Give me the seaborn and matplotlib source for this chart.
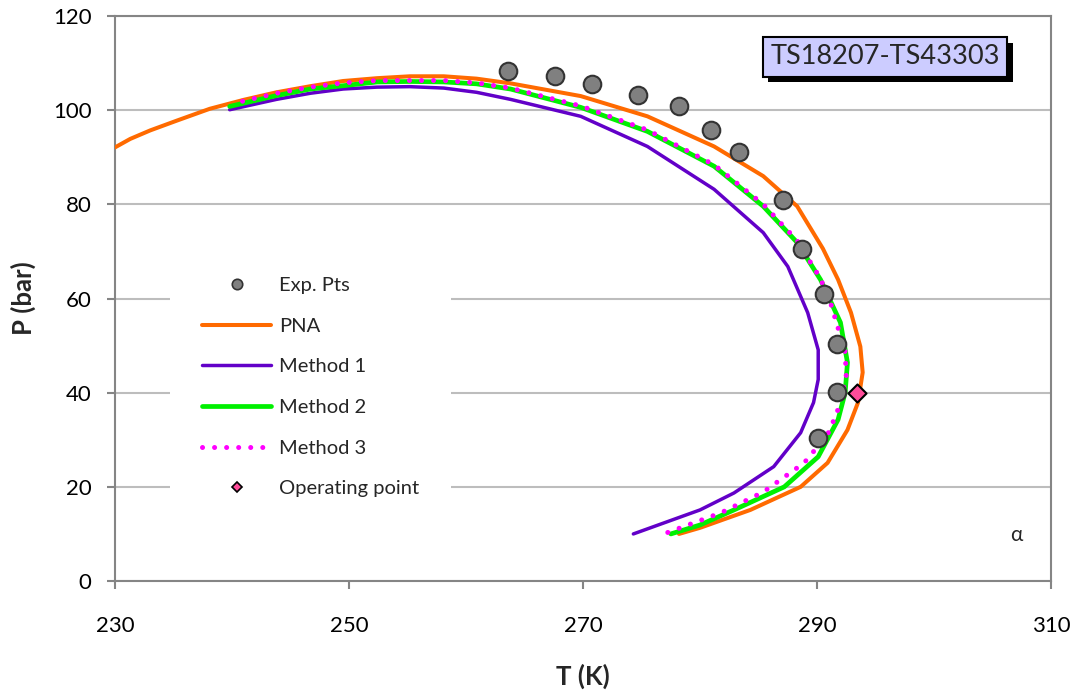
import matplotlib
matplotlib.use("Agg")
import matplotlib.pyplot as plt
import matplotlib.patheffects as pe
from matplotlib.lines import Line2D
import seaborn as sns

# ---------------- data ----------------
exp_T = [263.6, 267.6, 270.8, 274.7, 278.2, 280.9, 283.3, 287.1, 288.7, 290.6, 291.7, 291.7, 290.1]
exp_P = [108.3, 107.2, 105.5, 103.2, 100.9, 95.7, 91.1, 80.9, 70.6, 60.9, 50.4, 40.2, 30.4]

pna_T = [230.0, 231.3, 233.0, 235.3, 238.1, 241.0, 243.8, 246.7, 249.5, 252.4, 255.2, 258.1,
         260.9, 263.8, 269.8, 275.5, 281.2, 285.4, 288.3, 290.5, 291.8, 292.9, 293.7, 293.9,
         293.5, 292.6, 290.9, 288.6, 284.3, 280.0, 278.2]
pna_P = [92.1, 93.9, 95.7, 97.8, 100.3, 102.2, 103.8, 105.1, 106.2, 106.8, 107.2, 107.2,
         106.7, 105.7, 103.0, 98.7, 92.3, 86.0, 79.6, 70.6, 64.0, 57.0, 49.8, 44.3,
         37.9, 32.1, 25.1, 20.0, 15.1, 11.3, 10.0]

m1_T = [239.8, 243.8, 246.7, 249.5, 252.4, 255.2, 258.1, 260.9, 263.8, 269.8, 275.5, 281.2,
        285.4, 287.5, 289.2, 290.1, 290.1, 289.7, 288.6, 286.3, 282.9, 280.0, 274.3]
m1_P = [100.1, 102.3, 103.6, 104.5, 104.9, 105.0, 104.7, 103.8, 102.3, 98.7, 92.3, 83.2,
        74.0, 66.8, 57.0, 49.1, 42.8, 37.9, 31.5, 24.3, 18.7, 15.1, 10.0]

m2_T = [239.8, 243.8, 246.7, 249.5, 252.4, 255.2, 258.1, 260.9, 263.8, 269.8, 275.5, 281.2,
        285.4, 288.3, 290.3, 292.0, 292.6, 292.4, 291.8, 290.1, 287.2, 282.9, 280.0, 277.5]
m2_P = [100.8, 103.1, 104.5, 105.2, 106.0, 106.1, 106.0, 105.6, 104.5, 100.6, 95.5, 88.1,
        79.6, 71.9, 64.0, 54.9, 46.4, 40.0, 34.3, 26.4, 20.0, 15.1, 11.9, 10.0]

m3_T = [240.9, 243.8, 246.7, 249.5, 252.4, 255.2, 258.1, 260.9, 263.8, 269.8, 275.5, 281.2,
        285.4, 288.3, 290.3, 291.2, 292.4, 292.5, 291.7, 290.9, 288.9, 285.4, 281.8, 276.9]
m3_P = [101.9, 103.6, 104.9, 105.8, 106.3, 106.3, 106.3, 105.8, 104.7, 100.9, 95.8, 88.4,
        80.0, 72.3, 64.2, 58.7, 48.7, 43.2, 35.7, 31.1, 25.1, 18.9, 14.5, 10.0]

op_T = [293.4]
op_P = [40.0]

x_ticks = [230, 250, 270, 290, 310]
y_ticks = [0, 20, 40, 60, 80, 100, 120]
title_text = "TS18207-TS43303"
legend_labels = ["Exp. Pts", "PNA", "Method 1", "Method 2", "Method 3", "Operating point"]

# ---------------- style ----------------
sns.set_theme(style="white")
plt.rcParams["font.family"] = ["Lato", "DejaVu Sans"]

c_orange = "#FF6A00"
c_purple = "#6200C8"
c_green = "#00F000"
c_magenta = "#FF00FF"
c_gray = "#808080"
c_pink = "#FF4C9A"

fig = plt.figure(figsize=(10.8, 6.97), dpi=100)
ax = fig.add_axes([0.1065, 0.1664, 0.8667, 0.8106])

sns.lineplot(x=pna_T, y=pna_P, sort=False, estimator=None, color=c_orange, lw=2.9, ax=ax, zorder=3)
sns.lineplot(x=m1_T, y=m1_P, sort=False, estimator=None, color=c_purple, lw=2.5, ax=ax, zorder=3)
sns.lineplot(x=m2_T, y=m2_P, sort=False, estimator=None, color=c_green, lw=3.4, ax=ax, zorder=3)
sns.lineplot(x=m3_T, y=m3_P, sort=False, estimator=None, color=c_magenta, lw=3.6,
             linestyle=(0, (0.01, 2.4)), dash_capstyle="round", ax=ax, zorder=4)
sns.scatterplot(x=exp_T, y=exp_P, s=160, color=c_gray, edgecolor="#333333", linewidth=1.5,
                ax=ax, zorder=5)
sns.scatterplot(x=op_T, y=op_P, marker="D", s=85, color=c_pink, edgecolor="black", linewidth=1.5,
                ax=ax, zorder=6)

ax.set_xlim(230, 310)
ax.set_ylim(0, 120)
ax.set_xticks(x_ticks)
ax.set_yticks(y_ticks)
ax.grid(axis="y", color="#BDBDBD", lw=1.5)
ax.grid(axis="x", visible=False)
ax.set_axisbelow(True)
for s in ax.spines.values():
    s.set_color("#858585")
    s.set_linewidth(1.5)
    s.set_visible(True)
ax.tick_params(axis="both", which="major", direction="out", length=6, width=1.5,
               color="#858585", labelsize=16, labelcolor="black")
ax.tick_params(axis="x", pad=19, bottom=True)
ax.tick_params(axis="y", pad=11, left=True)

ax.set_xlabel("T (K)", fontsize=18.5, fontweight="bold")
ax.set_ylabel("P (bar)", fontsize=18.5, fontweight="bold")
ax.xaxis.set_label_coords(0.5, -0.147)
ax.yaxis.set_label_coords(-0.084, 0.5)

# title box with shadow
t = ax.text(295.8, 111.3, title_text, fontsize=19.5, ha="center", va="center", zorder=10,
            bbox=dict(boxstyle="square,pad=0.27", facecolor="#CCCCFF", edgecolor="black", lw=1.5))
t.get_bbox_patch().set_path_effects([
    pe.SimplePatchShadow(offset=(4, -4), shadow_rgbFace="black", alpha=1.0),
    pe.Normal()])

ax.text(307.0, 9.8, "α", fontsize=15, ha="center", va="center")

handles = [
    Line2D([], [], ls="none", marker="o", markersize=7.5, markerfacecolor=c_gray,
           markeredgecolor="#333333", markeredgewidth=1.2),
    Line2D([], [], color=c_orange, lw=2.9),
    Line2D([], [], color=c_purple, lw=2.5),
    Line2D([], [], color=c_green, lw=3.4),
    Line2D([], [], color=c_magenta, lw=3.6, ls=(0, (0.01, 2.4)), dash_capstyle="round"),
    Line2D([], [], ls="none", marker="D", markersize=5.5, markerfacecolor=c_pink,
           markeredgecolor="black", markeredgewidth=1.2),
]
leg = ax.legend(handles, legend_labels, loc="upper left", bbox_to_anchor=(0.0588, 0.595),
                frameon=True, fancybox=False, facecolor="white", edgecolor="none", framealpha=1,
                fontsize=14.5, handlelength=3.4, handletextpad=0.4, labelspacing=1.17,
                borderpad=1.6, borderaxespad=0)
leg.set_zorder(8)

fig.savefig("out.png", dpi=100)
